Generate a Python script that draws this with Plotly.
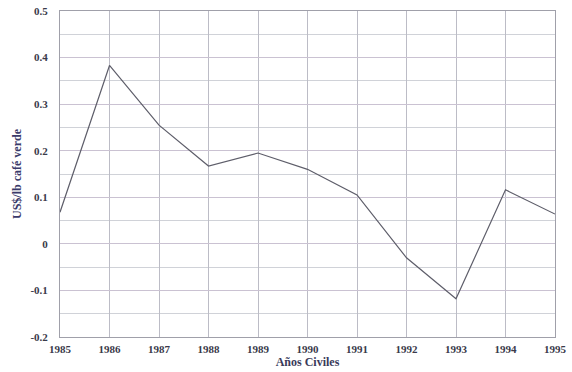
import plotly.graph_objects as go

years = [1985, 1986, 1987, 1988, 1989, 1990, 1991, 1992, 1993, 1994, 1995]
values = [0.068, 0.383, 0.255, 0.167, 0.195, 0.16, 0.105, -0.03, -0.118, 0.116, 0.064]
y_ticks = [-0.2, -0.1, 0, 0.1, 0.2, 0.3, 0.4, 0.5]
y_tick_labels = ["-0.2", "-0.1", "0", "0.1", "0.2", "0.3", "0.4", "0.5"]

fig = go.Figure()
fig.add_trace(go.Scatter(x=years, y=values, mode="lines",
                         line=dict(color="#5e5e6a", width=1.2), showlegend=False))

font = "Liberation Serif"
fig.update_layout(
    width=572, height=372,
    margin=dict(l=60, r=17, t=11, b=35),
    paper_bgcolor="white", plot_bgcolor="white",
    font=dict(family=font, color="#3a3a4a"),
    xaxis=dict(range=[1985, 1995], tickvals=years, ticktext=["<b>%d</b>" % y for y in years],
               automargin=False,
               showgrid=True, gridcolor="#bcbcc6", gridwidth=1,
               showline=True, linecolor="#a0a0aa", mirror=True, zeroline=False,
               ticks="", ticklabelstandoff=2, tickfont=dict(size=11, family=font, color="#3a3a4a"),
               title=dict(text="<b>Años Civiles</b>", font=dict(size=12, family=font, color="#3a3a5a"), standoff=2)),
    yaxis=dict(range=[-0.2, 0.5], tickvals=y_ticks, ticktext=["<b>%s</b>" % t for t in y_tick_labels],
               automargin=False,
               showgrid=True, gridcolor="#cac2d2", gridwidth=1,
               minor=dict(dtick=0.05, showgrid=True, gridcolor="#d0d2d8", gridwidth=1),
               showline=True, linecolor="#a0a0aa", mirror=True, zeroline=False,
               ticks="", ticklabelstandoff=9, tickfont=dict(size=11, family=font, color="#3a3a4a"),
               title=dict(text="<b>US$/lb café verde</b>", font=dict(size=12, family=font, color="#3a3a6a"), standoff=6)),
)
fig.write_html("out.html", config={"displayModeBar": False},
               post_script="document.body.style.margin='0';")
